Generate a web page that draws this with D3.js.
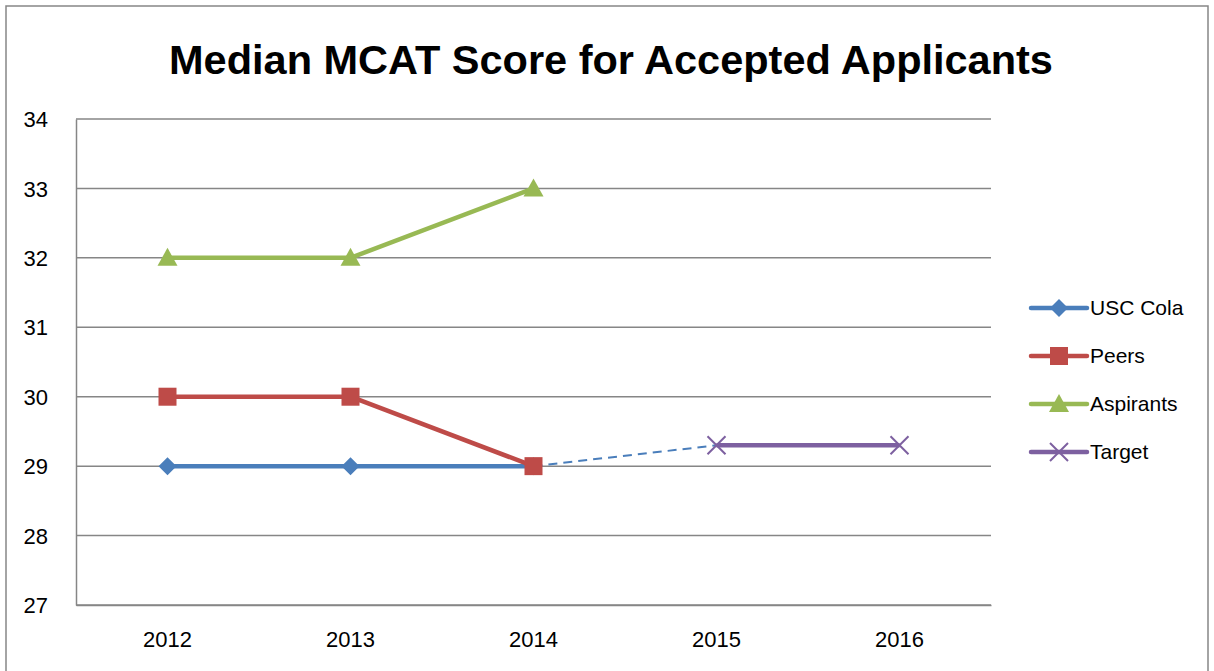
<!DOCTYPE html>
<html>
<head>
<meta charset="utf-8">
<script src="https://cdn.jsdelivr.net/npm/d3@7"></script>
<style>
  body { margin: 0; background: #fff; }
  text { font-family: "Liberation Sans", Arial, sans-serif; fill: #000; }
</style>
</head>
<body>
<div id="chart"></div>
<script>
// data
const years = ["2012", "2013", "2014", "2015", "2016"];
const yTicks = [27, 28, 29, 30, 31, 32, 33, 34];
const uscCola = [29, 29, 29, null, null];
const peers = [30, 30, 29, null, null];
const aspirants = [32, 32, 33, null, null];
const target = [null, null, null, 29.3, 29.3];
const projection = [null, null, 29, 29.3, null];

const W = 1214, H = 671;
const plot = { left: 76, right: 991, top: 119, bottom: 605 };

const svg = d3.select("#chart").append("svg")
  .attr("width", W).attr("height", H);

// outer chart border
svg.append("rect")
  .attr("x", 6).attr("y", 6)
  .attr("width", 1202).attr("height", 720)
  .attr("fill", "none").attr("stroke", "#868686").attr("stroke-width", 1.5);

const x = d3.scaleBand().domain(years).range([plot.left, plot.right]);
const y = d3.scaleLinear().domain([27, 34]).range([plot.bottom, plot.top]);
const cx = (d) => x(d) + x.bandwidth() / 2;

// title
const title = svg.append("text")
  .attr("x", 611).attr("y", 74)
  .attr("text-anchor", "middle")
  .style("font-weight", "bold")
  .style("font-size", "40px")
  .text("Median MCAT Score for Accepted Applicants");
const tl = title.node().getComputedTextLength();
title.style("font-size", (40 * 883 / tl).toFixed(1) + "px");

// gridlines
svg.append("g")
  .selectAll("line")
  .data(yTicks)
  .join("line")
  .attr("x1", plot.left).attr("x2", plot.right)
  .attr("y1", (d) => y(d)).attr("y2", (d) => y(d))
  .attr("stroke", "#868686").attr("stroke-width", 1.5);

// y axis
const yAxis = svg.append("g")
  .attr("transform", `translate(${plot.left},0)`)
  .call(d3.axisLeft(y).tickValues(yTicks).tickFormat(d3.format("d")).tickSize(0).tickPadding(28));
yAxis.select(".domain").attr("stroke", "#868686").attr("stroke-width", 1.5);
yAxis.selectAll("text").style("font-size", "22px").attr("font-family", null).attr("dy", "0.35em");

// x axis
const xAxis = svg.append("g")
  .attr("transform", `translate(0,${plot.bottom})`)
  .call(d3.axisBottom(x).tickSize(0).tickPadding(26));
xAxis.select(".domain").attr("stroke", "#868686").attr("stroke-width", 1.5);
xAxis.selectAll("text").style("font-size", "22px").attr("font-family", null);

const series = [
  { name: "USC Cola", values: uscCola, color: "#4A7EBB", symbol: "diamond" },
  { name: "Peers", values: peers, color: "#BE4B48", symbol: "square" },
  { name: "Aspirants", values: aspirants, color: "#98B954", symbol: "triangle" },
  { name: "Target", values: target, color: "#7D60A0", symbol: "x" },
];

function marker(g, sym, color) {
  if (sym === "diamond") {
    g.append("path").attr("d", "M0,-9L9,0L0,9L-9,0Z").attr("fill", color);
  } else if (sym === "square") {
    g.append("rect").attr("x", -9).attr("y", -9).attr("width", 18).attr("height", 18).attr("fill", color);
  } else if (sym === "triangle") {
    g.append("path").attr("d", "M0,-10L10,8L-10,8Z").attr("fill", color);
  } else {
    g.append("path").attr("d", "M-9,-9L9,9M-9,9L9,-9")
      .attr("stroke", color).attr("stroke-width", 2).attr("fill", "none");
  }
}

const line = d3.line()
  .defined((d) => d.v != null)
  .x((d) => cx(d.year))
  .y((d) => y(d.v));

// dashed projection from 2014 to the 2015 target
svg.append("path")
  .datum(years.map((yr, i) => ({ year: yr, v: projection[i] })))
  .attr("d", line)
  .attr("fill", "none")
  .attr("stroke", "#4A7EBB")
  .attr("stroke-width", 2)
  .attr("stroke-dasharray", "9,6");

series.forEach((s) => {
  const pts = years.map((yr, i) => ({ year: yr, v: s.values[i] }));
  svg.append("path")
    .datum(pts)
    .attr("d", line)
    .attr("fill", "none")
    .attr("stroke", s.color)
    .attr("stroke-width", 4.5)
    .attr("stroke-linejoin", "round");
  pts.filter((p) => p.v != null).forEach((p) => {
    const g = svg.append("g").attr("transform", `translate(${cx(p.year)},${y(p.v)})`);
    marker(g, s.symbol, s.color);
  });
});

// legend
const legend = svg.append("g").attr("transform", "translate(1031,308)");
series.forEach((s, i) => {
  const row = legend.append("g").attr("transform", `translate(0,${i * 48})`);
  row.append("line")
    .attr("x1", 0).attr("x2", 56)
    .attr("stroke", s.color).attr("stroke-width", 4.5)
    .attr("stroke-linecap", "round");
  const g = row.append("g").attr("transform", "translate(28,0)");
  marker(g, s.symbol, s.color);
  row.append("text")
    .attr("x", 59).attr("y", 0).attr("dy", "0.35em")
    .style("font-size", "21px")
    .text(s.name);
});
</script>
</body>
</html>
